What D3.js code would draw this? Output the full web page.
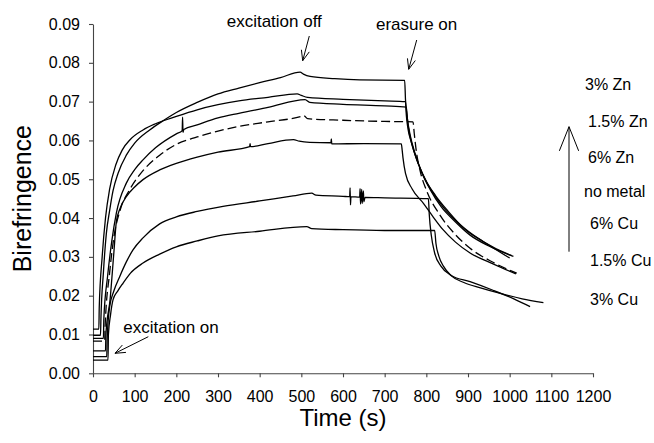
<!DOCTYPE html>
<html>
<head>
<meta charset="utf-8">
<script src="https://cdn.jsdelivr.net/npm/d3@7"></script>
<style>
  body { margin: 0; background: #fff; }
  svg { display: block; font-family: "Liberation Sans", Arial, sans-serif; }
</style>
</head>
<body>
<div id="chart"></div>
<script>
'use strict';

// [time (s), birefringence]
const zn3 = [
  [0,0.0098],[18,0.0098],[19,0.014],[25,0.026],[32,0.036],[40,0.042],[48,0.047],[60,0.0515],[80,0.0562],
  [100,0.0593],[136,0.0627],[170,0.0652],[200,0.0672],[250,0.0698],[300,0.0720],[350,0.0735],[400,0.0749],
  [450,0.0762],[497,0.0776],[505,0.0771],[521,0.0765],[580,0.0759],[640,0.0756],[748,0.0755],
  [750,0.0705],[754,0.066],[762,0.061],[772,0.057],[790,0.0515],[810,0.0472],[835,0.043],[870,0.039],
  [905,0.0356],[950,0.0328],[1009,0.0301]
];
const zn15 = [
  [0,0.0114],[14,0.0114],[15,0.017],[22,0.030],[30,0.040],[40,0.0475],[55,0.0538],[70,0.0575],[90,0.0603],
  [120,0.0627],[150,0.0643],[200,0.0662],[250,0.0679],[300,0.0692],[350,0.0702],[420,0.0711],[490,0.0720],
  [500,0.0716],[515,0.0711],[600,0.0706],[700,0.0702],[750,0.0700],
  [752,0.0665],[756,0.0630],[764,0.0595],[777,0.0550],[797,0.0500],[822,0.0458],[852,0.0418],[892,0.0372],
  [940,0.0337],[1000,0.0297]
];
const zn6 = [
  [0,0.0090],[25,0.0090],[26,0.014],[35,0.025],[45,0.034],[56,0.0413],[80,0.0490],[100,0.0525],[120,0.0550],
  [150,0.0581],[200,0.0617],[214,0.0625],[215,0.0660],[216,0.0621],[218,0.0628],[250,0.0640],[300,0.0658],
  [350,0.0670],[420,0.0685],[509,0.0705],[520,0.0698],[600,0.0693],[700,0.0689],[752,0.0686],
  [755,0.0650],[760,0.0615],[768,0.0580],[782,0.0537],[802,0.0490],[832,0.0440],[872,0.0392],[912,0.0357],
  [960,0.0325],[1005,0.0303]
];
const noMetal = [
  [0,0.0083],[28,0.0083],[29,0.012],[40,0.026],[50,0.035],[65,0.0420],[88,0.0473],[120,0.0522],[160,0.0562],
  [200,0.0590],[250,0.0609],[300,0.0624],[350,0.0636],[420,0.0648],[500,0.0662],[506,0.0664],[515,0.0656],
  [600,0.0652],[700,0.0649],[768,0.0648],
  [771,0.0618],[775,0.0580],[785,0.0522],[800,0.0472],[830,0.0412],[870,0.0357],[905,0.0322],[960,0.0286],
  [1017,0.0258]
];
const cu6 = [
  [0,0.0058],[30,0.0058],[31,0.010],[41,0.019],[50,0.031],[56,0.0390],[65,0.0425],[80,0.0455],[100,0.0480],
  [120,0.0499],[160,0.0524],[200,0.0541],[250,0.0557],[300,0.0570],[376,0.0584],[377,0.0592],[378,0.0584],
  [420,0.0592],[481,0.0602],[495,0.0598],[520,0.0595],[571,0.0594],[572,0.0604],[573,0.0591],[650,0.0592],
  [740,0.0591],
  [742,0.0575],[744,0.0555],[750,0.0515],[766,0.0475],[793,0.0438],[815,0.0405],[840,0.0370],[870,0.0338],
  [905,0.0310],[960,0.0282],[1015,0.0256]
];
const cu15 = [
  [0,0.0043],[33,0.0043],[34,0.009],[40,0.0172],[50,0.0212],[64,0.0249],[80,0.0287],[96,0.0318],[120,0.0349],
  [160,0.0385],[200,0.0403],[250,0.0417],[312,0.0430],[400,0.0444],[480,0.0457],[525,0.0464],[535,0.0459],
  [600,0.0456],[616,0.0455],[617,0.0478],[618,0.0434],[619,0.0455],[640,0.0454],[641,0.0476],[642,0.0436],
  [645,0.0474],[646,0.0438],[649,0.0470],[650,0.0442],[653,0.0453],[700,0.0452],[805,0.0450],
  [807,0.0410],[812,0.0355],[820,0.0310],[835,0.0276],[860,0.0252],[905,0.0236],[960,0.0214],[1010,0.0192],
  [1049,0.0172]
];
const cu3 = [
  [0,0.0034],[36,0.0034],[37,0.010],[42,0.0150],[48,0.0189],[60,0.0213],[72,0.0232],[90,0.0258],[120,0.0284],
  [160,0.0307],[200,0.0326],[250,0.0341],[300,0.0354],[400,0.0366],[513,0.0378],[525,0.0373],[600,0.0370],
  [700,0.0368],[820,0.0368],
  [823,0.0335],[830,0.0302],[841,0.0276],[860,0.0251],[890,0.0234],[930,0.0220],[980,0.0205],[1030,0.0192],
  [1081,0.0182]
];

const seriesNames = ['3% Zn', '1.5% Zn', '6% Zn', 'no metal', '6% Cu', '1.5% Cu', '3% Cu'];
const seriesData = [zn3, zn15, zn6, noMetal, cu6, cu15, cu3];
const xTicks = [0, 100, 200, 300, 400, 500, 600, 700, 800, 900, 1000, 1100, 1200];
const yTicks = [0, 0.01, 0.02, 0.03, 0.04, 0.05, 0.06, 0.07, 0.08, 0.09];

const W = 654, H = 443;
const margin = {top: 24, right: 61, bottom: 69.7, left: 93};

const svg = d3.select('#chart').append('svg')
    .attr('width', W)
    .attr('height', H);

const x = d3.scaleLinear()
    .domain([0, 1200])
    .range([margin.left, W - margin.right]);

const y = d3.scaleLinear()
    .domain([0, 0.09])
    .range([H - margin.bottom, margin.top]);

const yAxis = d3.axisLeft(y)
    .tickValues(yTicks)
    .tickSizeInner(4)
    .tickSizeOuter(0)
    .tickPadding(9)
    .tickFormat(d3.format('.2f'));

const xAxis = d3.axisBottom(x)
    .tickValues(xTicks)
    .tickSizeInner(4)
    .tickSizeOuter(0)
    .tickPadding(13)
    .tickFormat(d3.format('d'));

const gy = svg.append('g')
    .attr('transform', `translate(${margin.left}, 0)`)
    .call(yAxis);

const gx = svg.append('g')
    .attr('transform', `translate(0, ${H - margin.bottom})`)
    .call(xAxis);

[gx, gy].forEach(g => {
  g.selectAll('path, line').attr('stroke', '#444').attr('stroke-width', 1.1);
  g.selectAll('text').attr('fill', '#000').style('font-size', '16px');
});

svg.append('text')
    .attr('transform', `translate(31, ${(margin.top + H - margin.bottom) / 2}) rotate(-90)`)
    .attr('text-anchor', 'middle')
    .style('font-size', '25px')
    .text('Birefringence');

svg.append('text')
    .attr('x', (margin.left + W - margin.right) / 2)
    .attr('y', 426)
    .attr('text-anchor', 'middle')
    .style('font-size', '24px')
    .text('Time (s)');

const line = d3.line()
    .x(d => x(d[0]))
    .y(d => y(d[1]))
    .curve(d3.curveMonotoneX);

svg.selectAll('.series')
    .data(seriesData)
  .enter().append('path')
    .attr('class', 'series')
    .attr('fill', 'none')
    .attr('stroke', '#000')
    .attr('stroke-width', 1.3)
    .attr('stroke-dasharray', (d, i) => seriesNames[i] === 'no metal' ? '9,4' : null)
    .attr('d', line);

// legend labels, stacked at the right
const legendX = [585, 588, 588, 584, 590, 590, 590];
const legendY = [90, 126.7, 163.3, 196.5, 229.3, 266, 305];
svg.selectAll('.legend')
    .data(seriesNames)
  .enter().append('text')
    .attr('class', 'legend')
    .attr('x', (d, i) => legendX[i])
    .attr('y', (d, i) => legendY[i])
    .style('font-size', '16px')
    .text(d => d);

function arrow(x1, y1, x2, y2, head) {
  const a = Math.atan2(y2 - y1, x2 - x1);
  const s = 0.38;
  const p = `M${x1},${y1}L${x2},${y2}` +
    `M${x2 - head * Math.cos(a - s)},${y2 - head * Math.sin(a - s)}L${x2},${y2}` +
    `L${x2 - head * Math.cos(a + s)},${y2 - head * Math.sin(a + s)}`;
  svg.append('path')
      .attr('d', p)
      .attr('fill', 'none')
      .attr('stroke', '#000')
      .attr('stroke-width', 1);
}

arrow(569, 251.7, 569, 126.7, 26);
arrow(148.3, 336.7, 115, 353.3, 11);
arrow(309.3, 36, 302.7, 60.7, 11);
arrow(416.7, 40, 408.7, 69.3, 11);

const notes = [
  {t: 'excitation on', x: 123.3, y: 333.3},
  {t: 'excitation off', x: 226.7, y: 27},
  {t: 'erasure on', x: 376, y: 30}
];
svg.selectAll('.note')
    .data(notes)
  .enter().append('text')
    .attr('class', 'note')
    .attr('x', d => d.x)
    .attr('y', d => d.y)
    .style('font-size', '17px')
    .text(d => d.t);
</script>
</body>
</html>
